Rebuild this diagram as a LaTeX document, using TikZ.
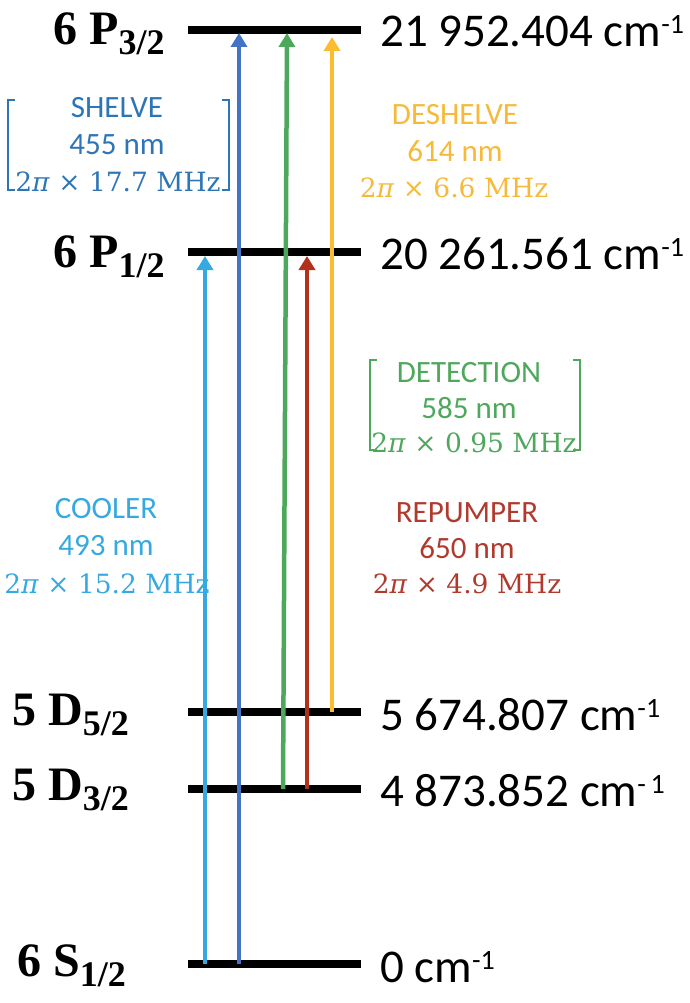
\documentclass[tikz,border=0pt]{standalone}
\usepackage{fontspec}
\setmainfont{Carlito}
\newfontfamily\lvlfont{Liberation Serif}
\newfontfamily\mthfont{DejaVu Serif}
\usetikzlibrary{arrows.meta}
\definecolor{coolC}{HTML}{36A9E1}
\definecolor{shelC}{HTML}{4472C4}
\definecolor{shelT}{HTML}{2E75B6}
\definecolor{detC}{HTML}{4EA85C}
\definecolor{repC}{HTML}{B5301C}
\definecolor{repT}{HTML}{B03A2E}
\definecolor{desC}{HTML}{FBBC2D}
\definecolor{desT}{HTML}{F6B93A}
\newcommand{\sublbl}[1]{\raisebox{-10pt}{\fontsize{36}{36}\selectfont #1}}
\newcommand{\invcm}{cm\raisebox{13pt}{\fontsize{28}{28}\selectfont -1}}
\begin{document}
\begin{tikzpicture}[x=1pt,y=-1pt,
  level/.style={line width=8pt},
  trans/.style={line width=4.5pt,-{Triangle[width=16pt,length=14pt]}},
  lvlname/.style={anchor=base west,inner sep=0pt,font=\lvlfont\bfseries\fontsize{48}{48}\selectfont},
  energy/.style={anchor=base west,inner sep=0pt,font=\fontsize{47}{47}\selectfont},
  lab/.style={anchor=base,inner sep=0pt,font=\fontsize{31}{31}\selectfont},
  labm/.style={anchor=base,inner sep=0pt,font=\mthfont\fontsize{26.5}{26.5}\selectfont},
  brk/.style={line width=2pt}]
\useasboundingbox (0,0) rectangle (689,1003);

% levels
\coordinate (P3a) at (188,30);  \coordinate (P3b) at (361,30);
\coordinate (P1a) at (188,252); \coordinate (P1b) at (361,252);
\coordinate (D5a) at (188,712); \coordinate (D5b) at (361,712);
\coordinate (D3a) at (188,789); \coordinate (D3b) at (361,789);
\coordinate (S1a) at (188,964); \coordinate (S1b) at (361,964);
\foreach \l in {P3,P1,D5,D3,S1} \draw[level] (\l a) -- (\l b);

% level names
\node[lvlname] (nP3) at (53,45)  {6 P\sublbl{3/2}};
\node[lvlname] (nP1) at (53,267) {6 P\sublbl{1/2}};
\node[lvlname] (nD5) at (12,725) {5 D\sublbl{5/2}};
\node[lvlname] (nD3) at (12,800) {5 D\sublbl{3/2}};
\node[lvlname] (nS1) at (17,976) {6 S\sublbl{1/2}};

% energies
\node[energy] (eP3) at (380,47)  {21 952.404 \invcm};
\node[energy] (eP1) at (380,269) {20 261.561 \invcm};
\node[energy] (eD5) at (380,730) {5 674.807 \invcm};
\node[energy] (eD3) at (380,806) {4 873.852 cm\raisebox{13pt}{\fontsize{28}{28}\selectfont -\,1}};
\node[energy] (eS1) at (380,982) {0 \invcm};

% transitions
\coordinate (coolB) at (205,964); \coordinate (coolT) at (205,256);
\coordinate (shelB) at (239,964); \coordinate (shelT) at (239,33);
\coordinate (detB) at (283,789);  \coordinate (detT) at (287,33);
\coordinate (repB) at (307,789);  \coordinate (repT) at (307,256);
\coordinate (desB) at (332,712);  \coordinate (desT) at (332,37);
\draw[trans,coolC] (coolB) -- (coolT);
\draw[trans,shelC] (shelB) -- (shelT);
\draw[trans,detC] (detB) -- (detT);
\draw[trans,repC] (repB) -- (repT);
\draw[trans,desC] (desB) -- (desT);

% labels
\node[lab,shelT] (sh1) at (117,118) {SHELVE};
\node[lab,shelT] (sh2) at (117,155) {455 nm};
\node[labm,shelT] (sh3) at (118,192) {2\textit{π} × 17.7 MHz};
\draw[brk,shelT] (15,100) -- (8,100) -- (8,190) -- (15,190);
\draw[brk,shelT] (222,100) -- (229,100) -- (229,190) -- (222,190);

\node[lab,desT] (de1) at (455,125) {DESHELVE};
\node[lab,desT] (de2) at (455,162) {614 nm};
\node[labm,desT] (de3) at (454,197) {2\textit{π} × 6.6 MHz};

\node[lab,detC] (dt1) at (469,382) {DETECTION};
\node[lab,detC] (dt2) at (469,418) {585 nm};
\node[labm,detC] (dt3) at (474,452) {2\textit{π} × 0.95 MHz};
\draw[brk,detC] (377,360) -- (370,360) -- (370,450) -- (377,450);
\draw[brk,detC] (573,360) -- (580,360) -- (580,450) -- (573,450);

\node[lab,coolC] (co1) at (106,518) {COOLER};
\node[lab,coolC] (co2) at (106,555) {493 nm};
\node[labm,coolC] (co3) at (107,593) {2\textit{π} × 15.2 MHz};

\node[lab,repT] (rp1) at (467,522) {REPUMPER};
\node[lab,repT] (rp2) at (467,558) {650 nm};
\node[labm,repT] (rp3) at (467,593) {2\textit{π} × 4.9 MHz};
\end{tikzpicture}
\end{document}
